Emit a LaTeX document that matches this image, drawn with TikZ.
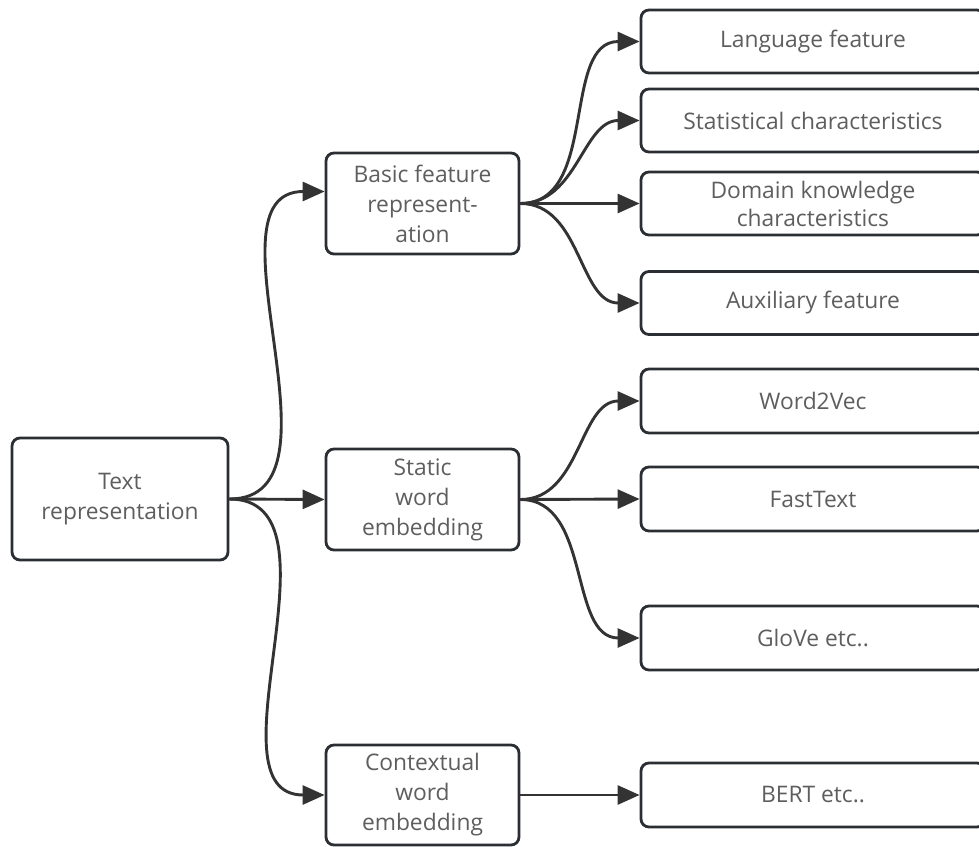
\documentclass[tikz,border=0pt]{standalone}
\usepackage{fontspec}
\setmainfont{Open Sans}
\usetikzlibrary{arrows.meta}
\definecolor{edgec}{HTML}{333333}
\definecolor{boxc}{HTML}{2B2F33}
\definecolor{txtc}{HTML}{5E5E5E}
\begin{document}
\begin{tikzpicture}[x=1pt,y=-1pt,
  box/.style={draw=boxc,line width=2.8pt,rounded corners=8pt,fill=white,text=txtc,align=center,font=\fontsize{22.8}{30}\selectfont,inner sep=0pt},
  midbox/.style={box,minimum width=193pt,minimum height=101pt},
  leafbox/.style={box,minimum width=344pt,minimum height=63pt,font=\fontsize{22.8}{28}\selectfont},
  conn/.style={draw=edgec,line width=2.9pt,-{Triangle[length=22pt,width=19pt]}},
]
\useasboundingbox (0,0) rectangle (979,846);
\clip (0,0) rectangle (979,846);
\fill[white] (0,0) rectangle (979,846);

\node[box,minimum width=216pt,minimum height=122pt] (tr) at (120,499) {Text\\representation};
\node[midbox] (basic) at (422.5,203.5) {Basic feature\\represent-\\ation};
\node[midbox] (static) at (422.5,499.5) {Static\\word\\embedding};
\node[midbox,minimum height=100pt] (ctx) at (422.5,795) {Contextual\\word\\embedding};

\node[leafbox] (lang) at (813,41.5) {Language feature};
\node[leafbox] (stat) at (813,120.5) {Statistical characteristics};
\node[leafbox] (dom) at (813,203.5) {Domain knowledge\\characteristics};
\node[leafbox] (aux) at (813,303) {Auxiliary feature};
\node[leafbox,minimum height=64pt] (w2v) at (813,401) {Word2Vec};
\node[leafbox,minimum height=64pt] (fast) at (813,499) {FastText};
\node[leafbox,minimum height=64pt] (glove) at (813,638) {GloVe etc..};
\node[leafbox,minimum height=64pt] (bert) at (813,795) {BERT etc..};

\draw[conn] (tr.east) to[out=0,in=180] ([yshift=12pt]basic.west);
\draw[conn] (tr.east) -- (static.west);
\draw[conn] (tr.east) to[out=0,in=180] (ctx.west);

\draw[conn] (basic.east) to[out=0,in=180] (lang.west);
\draw[conn] (basic.east) to[out=0,in=180] (stat.west);
\draw[conn] (basic.east) -- (dom.west);
\draw[conn] (basic.east) to[out=0,in=180] (aux.west);

\draw[conn] (static.east) to[out=0,in=180] (w2v.west);
\draw[conn] (static.east) -- (fast.west);
\draw[conn] (static.east) to[out=0,in=180] (glove.west);

\draw[conn] (ctx.east) -- (bert.west);
\end{tikzpicture}
\end{document}
